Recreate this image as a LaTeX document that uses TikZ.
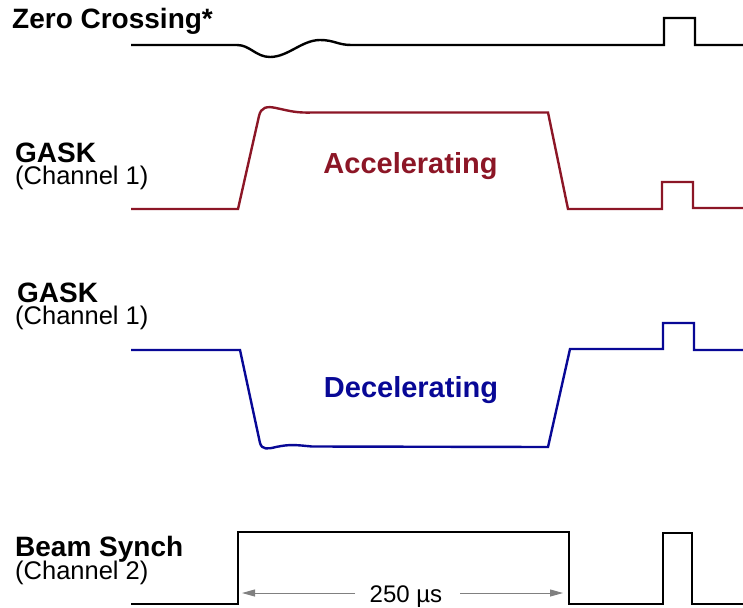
\documentclass[tikz,border=0pt]{standalone}
\usepackage{fontspec}
\setmainfont{Liberation Sans}
\usetikzlibrary{arrows.meta}
\definecolor{accred}{RGB}{140,22,38}
\definecolor{decblue}{RGB}{8,8,150}
\definecolor{dimgray}{RGB}{128,128,128}
\tikzset{
  x=1pt, y=-1pt,
  wave/.style={line width=2.4pt, line join=miter},
  title/.style={anchor=base west, inner sep=0pt, font=\fontsize{28}{30}\selectfont\bfseries},
  sub/.style={anchor=base west, inner sep=0pt, font=\fontsize{25.5}{28}\selectfont},
  mid/.style={anchor=base, inner sep=0pt, font=\fontsize{29}{31}\selectfont\bfseries},
  dim/.style={draw=dimgray, line width=1pt, -{Triangle[length=13pt,width=7pt]}},
}
\begin{document}
\begin{tikzpicture}
\useasboundingbox (0,0) rectangle (743,607);
% labels
\node[title] (zc) at (12,29) {Zero Crossing*};
\node[title] (g1) at (15,162) {GASK};
\node[sub] (c1) at (15,184) {(Channel 1)};
\node[title] (g2) at (17,302) {GASK};
\node[sub] (c2) at (15,324) {(Channel 1)};
\node[title] (bs) at (15,556) {Beam Synch};
\node[sub] (c3) at (15,579) {(Channel 2)};
\node[mid, text=accred] (acc) at (410.5,173) {Accelerating};
\node[mid, text=decblue] (dec) at (411,397) {Decelerating};
% zero crossing
\draw[wave, black] (131,45) -- (237,45)
  .. controls (250,45) and (256,57) .. (270,57)
  .. controls (288,57) and (302,40) .. (320,40)
  .. controls (334,40) and (338,45) .. (351,45)
  -- (664,45) -- (664,18) -- (695,18) -- (695,45) -- (743,45);
% accelerating
\draw[wave, accred] (131,209) -- (238,209) -- (259,116)
  .. controls (261,107) and (267,106) .. (276,108)
  .. controls (290,111) and (296,113) .. (312,112.5)
  -- (548,112.5) -- (568,209) -- (662,209) -- (662,182) -- (693,182) -- (693,208) -- (743,208);
% decelerating
\draw[wave, decblue] (131,350) -- (240,350) -- (260,443)
  .. controls (262,450) and (268,449) .. (276,447)
  .. controls (290,444) and (296,445) .. (312,446.5)
  -- (548,447) -- (570,349) -- (663,349) -- (663,323) -- (694,323) -- (694,350) -- (743,350);
% beam synch
\draw[wave, black] (131,604) -- (238,604) -- (238,532) -- (569,532) -- (569,604)
  -- (663,604) -- (663,533) -- (692,533) -- (692,604) -- (743,604);
% dimension
\node[anchor=base, inner sep=0pt, font=\fontsize{24}{26}\selectfont] (dt) at (406,602) {250 µs};
\coordinate (la) at (242,593);
\coordinate (ls) at (355,593);
\coordinate (ra) at (563,593);
\coordinate (rs) at (460,593);
\draw[dim] (ls) -- (la);
\draw[dim] (rs) -- (ra);
\end{tikzpicture}
\end{document}
